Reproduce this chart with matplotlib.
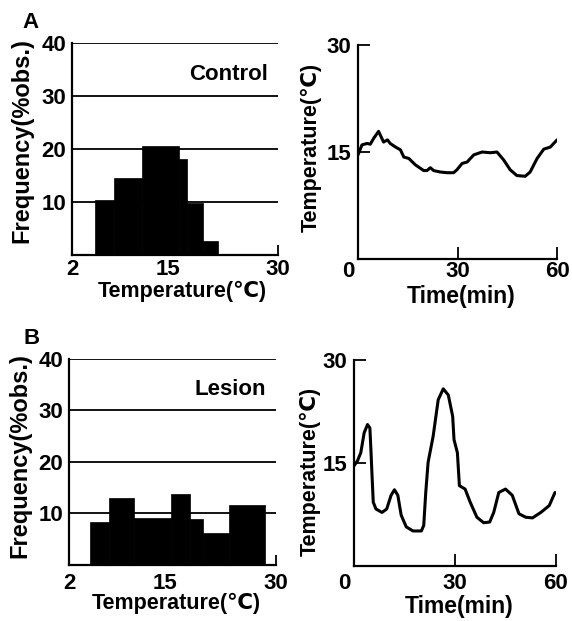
import matplotlib
matplotlib.use("Agg")
import matplotlib.pyplot as plt
import matplotlib.transforms as mtransforms

plt.rcParams['font.family'] = ['Liberation Sans', 'DejaVu Sans']
plt.rcParams['font.weight'] = 'bold'
plt.rcParams['axes.labelweight'] = 'bold'
plt.rcParams['font.size'] = 16

### DATA ###
# Histogram bins (temperature, deg C) and frequencies (% obs.)
control_edges = [5.1, 7.7, 11.5, 16.5, 17.6, 19.8, 21.8]
control_freq = [10.4, 14.5, 20.6, 18.1, 9.8, 2.6]

lesion_edges = [4.8, 7.4, 10.8, 15.8, 18.4, 20.1, 23.6, 28.5]
lesion_freq = [8.4, 13.1, 9.1, 13.7, 9.0, 6.3, 11.6]

# Body temperature traces (time in min, temperature in deg C)
control_time = [0, 1.2, 2.7, 3.7, 4.7, 6.2, 7.0, 7.7, 8.9, 9.7, 11.3, 12.8,
                13.8, 15.3, 17.3, 19.8, 20.8, 21.8, 22.8, 24.8, 26.8, 28.8,
                29.8, 31.4, 32.9, 34.9, 37.4, 39.9, 41.9, 43.9, 45.9, 47.9,
                50.4, 51.9, 54.0, 56.0, 58.0, 60.0]
control_temp = [14.6, 16.0, 16.2, 16.1, 16.9, 17.9, 17.1, 16.4, 16.7, 16.2,
                15.7, 15.3, 14.3, 14.1, 13.2, 12.4, 12.4, 12.8, 12.4, 12.2,
                12.1, 12.1, 12.5, 13.4, 13.6, 14.6, 15.0, 14.9, 15.0, 13.9,
                12.5, 11.7, 11.6, 12.2, 14.1, 15.4, 15.7, 16.7]

lesion_time = [0, 1, 2, 3, 4, 4.7, 5.0, 5.3, 5.7, 6.5, 8.3, 9.7, 11.0, 12.0,
               13.0, 14.0, 15.5, 17.5, 20.0, 20.7, 21.3, 22.0, 23.5, 25.0,
               26.5, 28.0, 29.3, 29.7, 30.7, 31.3, 33.0, 34.5, 36.5, 38.5,
               40.3, 41.5, 43.0, 45.0, 47.0, 49.0, 51.0, 53.0, 55.5, 58.0,
               59.7]
lesion_temp = [14.6, 15.3, 16.5, 19.4, 20.6, 20.1, 17.0, 13.6, 9.3, 8.3, 7.8,
               8.3, 10.3, 11.1, 10.3, 7.4, 5.7, 5.1, 5.1, 5.9, 10.7, 15.1,
               18.9, 24.2, 25.8, 24.9, 21.8, 18.4, 16.5, 11.7, 11.2, 9.3, 7.1,
               6.3, 6.4, 7.8, 10.7, 11.2, 10.3, 7.6, 7.1, 7.0, 7.8, 8.8, 10.7]

hist_yticks = [10, 20, 30, 40]
hist_xticks = [2, 15, 30]
line_xticks = [0, 30, 60]
line_yticks = [15, 30]


def histogram_panel(ax, edges, freq, name, xpad=3):
    widths = [b - a for a, b in zip(edges[:-1], edges[1:])]
    ax.bar(edges[:-1], freq, width=widths, align='edge', color='black',
           edgecolor='black', linewidth=0.5, zorder=3)
    ax.set_xlim(2, 30)
    ax.set_ylim(0, 40)
    ax.set_yticks(hist_yticks)
    ax.set_xticks(hist_xticks)
    ax.yaxis.grid(True, color='black', linewidth=1.3)
    ax.tick_params(axis='y', length=0, pad=4)
    ax.tick_params(axis='x', direction='in', length=7, width=1.3, pad=xpad)
    for s in ['top', 'right']:
        ax.spines[s].set_visible(False)
    for s in ['left', 'bottom']:
        ax.spines[s].set_linewidth(1.6)
    ax.set_ylabel('Frequency(%obs.)', fontsize=17)
    ax.set_xlabel('Temperature(℃)', fontsize=15.5)
    ax.text(0.95, 0.85, name, transform=ax.transAxes, ha='right', va='center')


def trace_panel(ax, t, temp, xpad=2):
    ax.plot(t, temp, color='black', linewidth=2.2, solid_joinstyle='round',
            solid_capstyle='round')
    ax.set_xlim(0, 60)
    ax.set_ylim(0, 30)
    ax.set_xticks(line_xticks)
    ax.set_yticks(line_yticks)
    ax.tick_params(direction='in', length=8.5, width=1.3)
    ax.tick_params(axis='y', pad=5)
    ax.tick_params(axis='x', pad=xpad)
    for s in ['top', 'right']:
        ax.spines[s].set_visible(False)
    for s in ['left', 'bottom']:
        ax.spines[s].set_linewidth(1.6)
    # first x label sits left of the origin
    shift = mtransforms.ScaledTranslation(-0.1, 0, ax.figure.dpi_scale_trans)
    ax.get_xticklabels()[0].set_transform(
        ax.get_xticklabels()[0].get_transform() + shift)
    ax.set_ylabel('Temperature(℃)', fontsize=15.5)
    ax.set_xlabel('Time(min)', fontsize=16.5)


fig = plt.figure(figsize=(5.72, 6.21), dpi=100)

ax1 = fig.add_axes([0.1259, 0.5894, 0.360, 0.3414])
histogram_panel(ax1, control_edges, control_freq, 'Control', xpad=3)
ax1.yaxis.set_label_coords(-0.19, 0.542)
ax1.xaxis.set_label_coords(0.534, -0.123)

ax2 = fig.add_axes([0.6259, 0.5829, 0.3479, 0.3446])
trace_panel(ax2, control_time, control_temp, xpad=1.5)
ax2.yaxis.set_label_coords(-0.18, 0.52)
ax2.xaxis.set_label_coords(0.518, -0.121)

ax3 = fig.add_axes([0.1206, 0.0902, 0.3619, 0.3317])
histogram_panel(ax3, lesion_edges, lesion_freq, 'Lesion', xpad=6)
ax3.yaxis.set_label_coords(-0.18, 0.53)
ax3.xaxis.set_label_coords(0.52, -0.136)

ax4 = fig.add_axes([0.619, 0.0886, 0.353, 0.3317])
trace_panel(ax4, lesion_time, lesion_temp, xpad=5)
ax4.yaxis.set_label_coords(-0.165, 0.46)
ax4.xaxis.set_label_coords(0.52, -0.141)

fig.text(31 / 572, 1 - 22 / 621, 'A', ha='center', va='center')
fig.text(32 / 572, 1 - 338 / 621, 'B', ha='center', va='center')

fig.savefig('out.png', dpi=100)
